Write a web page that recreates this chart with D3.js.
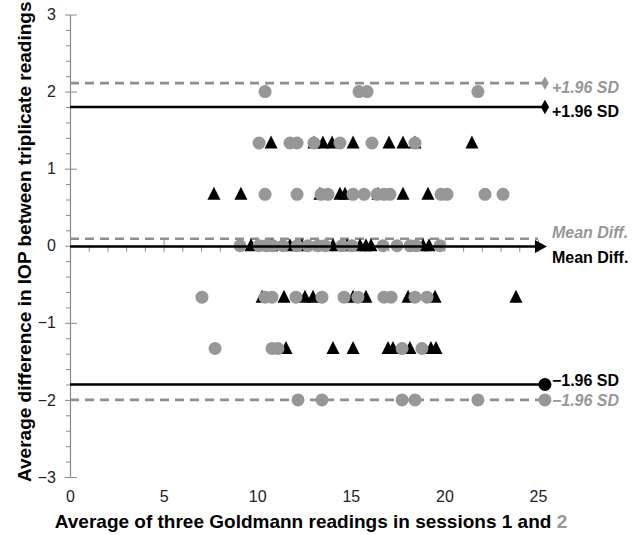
<!DOCTYPE html>
<html>
<head>
<meta charset="utf-8">
<script src="https://cdn.jsdelivr.net/npm/d3@7"></script>
<style>
  body { margin: 0; background: #fff; }
  svg { font-family: "Liberation Sans", Arial, sans-serif; }
</style>
</head>
<body>
<div id="chart"></div>
<script>
// y levels are thirds (difference of triplicate readings)
const levels = [2, 4 / 3, 2 / 3, 0, -2 / 3, -4 / 3, -2];

// session 2 (grey circles): x values per level
const circleX = [
    [10.42, 15.44, 15.87, 21.79],
    [10.10, 11.75, 12.13, 13.03, 14.42, 16.13, 18.43],
    [10.42, 12.13, 13.41, 13.78, 15.12, 15.71, 16.40, 16.77, 17.09, 19.82, 20.14, 22.17, 23.13],
    [9.08, 10.10, 10.47, 10.84, 11.38, 12.13, 12.71, 13.25, 13.62, 14.53, 15.06, 16.72, 17.47, 18.16, 18.48, 19.76],
    [7.05, 10.42, 10.79, 12.07, 13.46, 14.64, 15.38, 16.77, 17.15, 18.43, 19.07],
    [7.75, 10.79, 11.11, 17.74, 18.80],
    [12.18, 13.46, 17.74, 18.43, 21.79]
];

// session 1 (black triangles): x values per level
const triangleX = [
    [],
    [10.74, 13.03, 13.51, 14.00, 15.12, 17.04, 17.79, 18.43, 21.47],
    [7.69, 9.13, 13.35, 14.42, 14.69, 16.45, 17.79, 19.12],
    [9.67, 10.79, 11.75, 12.39, 14.05, 14.80, 15.49, 15.81, 16.08, 18.86, 19.18],
    [10.26, 11.43, 12.55, 12.98, 15.12, 15.81, 18.06, 19.50, 23.82],
    [11.54, 14.05, 15.12, 16.99, 17.25, 18.16, 19.28, 19.55],
    []
];

// limits of agreement: +1.96 SD, mean difference, -1.96 SD
const limitLabels = ["+1.96 SD", "Mean Diff.", "\u22121.96 SD"];
const blackLimits = [1.80, -0.01, -1.80];
const greyLimits = [2.11, 0.09, -2.00];
const lineEnd = 25.37;

const xTicks = [0, 5, 10, 15, 20, 25];
const yTicks = [-3, -2, -1, 0, 1, 2, 3];

const width = 635, height = 535;
const black = "#000", grey = "#979797", greyLine = "#8f8f8f", axisGrey = "#8a8a8a";

const svg = d3.select("#chart").append("svg")
    .attr("width", width).attr("height", height);

const x = d3.scaleLinear().domain([0, 25]).range([70, 538]);
const y = d3.scaleLinear().domain([-3, 3]).range([477, 14.5]);

// flatten into points
const toPoints = (rows) => rows.flatMap((xs, i) => xs.map(v => [v, levels[i]]));
const circles = toPoints(circleX);
const triangles = toPoints(triangleX);

// Y AXIS
const yMinor = d3.range(-3, 3.001, 0.2).filter(v => Math.abs(v - Math.round(v)) > 1e-6);
svg.append("g")
    .attr("transform", `translate(${x(0)},0)`)
    .call(d3.axisLeft(y).tickValues(yMinor).tickSize(4).tickFormat(""))
    .call(g => g.select(".domain").remove())
    .call(g => g.selectAll("line").attr("stroke", axisGrey));
const yAxis = svg.append("g")
    .attr("transform", `translate(${x(0)},0)`)
    .call(d3.axisLeft(y).tickValues(yTicks).tickSizeInner(5).tickSizeOuter(0)
        .tickPadding(9).tickFormat(d => d < 0 ? "\u2212" + Math.abs(d) : d));
yAxis.select(".domain").attr("stroke", axisGrey).attr("stroke-width", 1.2);
yAxis.selectAll(".tick line").attr("stroke", axisGrey).attr("x2", 7).attr("x1", -5);
yAxis.selectAll("text").attr("font-size", 16).attr("fill", "#222");

// X AXIS ticks along y = 0
const xMinor = d3.range(1, 26).filter(v => v % 5 !== 0);
svg.append("g")
    .attr("transform", `translate(0,${y(0)})`)
    .call(d3.axisBottom(x).tickValues(xMinor).tickSize(6).tickFormat(""))
    .call(g => g.select(".domain").remove())
    .call(g => g.selectAll("line").attr("stroke", axisGrey));
svg.append("g")
    .attr("transform", `translate(0,${y(0)})`)
    .call(d3.axisBottom(x).tickValues(xTicks).tickSizeOuter(0).tickFormat(""))
    .call(g => g.select(".domain").attr("stroke", axisGrey))
    .call(g => g.selectAll(".tick line").attr("stroke", axisGrey).attr("y1", -6).attr("y2", 6));
// x tick labels at the bottom
svg.append("g")
    .attr("transform", `translate(0,${y(-3) + 9})`)
    .call(d3.axisBottom(x).tickValues(xTicks).tickSize(0).tickPadding(5))
    .call(g => g.select(".domain").remove())
    .call(g => g.selectAll("text").attr("font-size", 16).attr("fill", "#222"));

// grey dashed limit lines (behind markers)
svg.selectAll("line.grey-limit")
    .data(greyLimits)
    .join("line").attr("class", "grey-limit")
    .attr("x1", x(0)).attr("x2", (d, i) => i === 1 ? x(25) : x(lineEnd))
    .attr("y1", d => y(d)).attr("y2", d => y(d))
    .attr("stroke", greyLine).attr("stroke-width", 2.6)
    .attr("stroke-dasharray", "9,6");

// triangles (session 1)
svg.append("g").selectAll("path")
    .data(triangles)
    .join("path")
    .attr("transform", d => `translate(${x(d[0])},${y(d[1])})`)
    .attr("d", "M0,-7.5L6.5,5.5L-6.5,5.5Z")
    .attr("fill", black);

// circles (session 2)
svg.append("g").selectAll("circle")
    .data(circles)
    .join("circle")
    .attr("cx", d => x(d[0])).attr("cy", d => y(d[1]))
    .attr("r", 6.5)
    .attr("fill", grey);

// black solid limit lines
svg.selectAll("line.black-limit")
    .data(blackLimits)
    .join("line").attr("class", "black-limit")
    .attr("x1", x(0)).attr("x2", (d, i) => i === 1 ? x(lineEnd) - 8 : x(lineEnd))
    .attr("y1", d => y(d)).attr("y2", d => y(d))
    .attr("stroke", black).attr("stroke-width", 2.6);

// end markers
const ex = x(lineEnd);
svg.append("path")
    .attr("transform", `translate(${ex},${y(greyLimits[0])})`)
    .attr("d", d3.symbol(d3.symbolDiamond, 50)()).attr("fill", grey);
svg.append("path")
    .attr("transform", `translate(${ex},${y(blackLimits[0])})`)
    .attr("d", d3.symbol(d3.symbolDiamond, 60)()).attr("fill", black);
svg.append("path")
    .attr("transform", `translate(${ex},${y(blackLimits[1])})`)
    .attr("d", "M2,0L-10,-6.5L-10,6.5Z").attr("fill", black);
svg.append("circle")
    .attr("cx", ex).attr("cy", y(blackLimits[2])).attr("r", 6.5).attr("fill", black);
svg.append("circle")
    .attr("cx", ex).attr("cy", y(greyLimits[2])).attr("r", 6.5).attr("fill", grey);

// labels
const greyOffset = [4, -6, 0];
const blackOffset = [4, 11, -4];
svg.selectAll("text.grey-label")
    .data(greyLimits)
    .join("text").attr("class", "grey-label")
    .attr("x", ex + 7).attr("y", (d, i) => y(d) + greyOffset[i])
    .attr("dy", "0.35em")
    .attr("font-size", 16).attr("font-weight", "bold").attr("font-style", "italic")
    .attr("fill", grey)
    .text((d, i) => limitLabels[i]);
svg.selectAll("text.black-label")
    .data(blackLimits)
    .join("text").attr("class", "black-label")
    .attr("x", ex + 7).attr("y", (d, i) => y(d) + blackOffset[i])
    .attr("dy", "0.35em")
    .attr("font-size", 16).attr("font-weight", "bold")
    .attr("fill", black)
    .text((d, i) => limitLabels[i]);

// axis titles
svg.append("text")
    .attr("transform", `translate(31,${(y(3) + y(-3)) / 2 - 4}) rotate(-90)`)
    .attr("text-anchor", "middle")
    .attr("font-size", 19).attr("font-weight", "bold")
    .text("Average difference in IOP between triplicate readings");
const xt = svg.append("text")
    .attr("x", 311).attr("y", 528)
    .attr("text-anchor", "middle")
    .attr("font-size", 19).attr("font-weight", "bold");
xt.append("tspan").text("Average of three Goldmann readings in sessions 1 and ");
xt.append("tspan").attr("fill", grey).text("2");
</script>
</body>
</html>
